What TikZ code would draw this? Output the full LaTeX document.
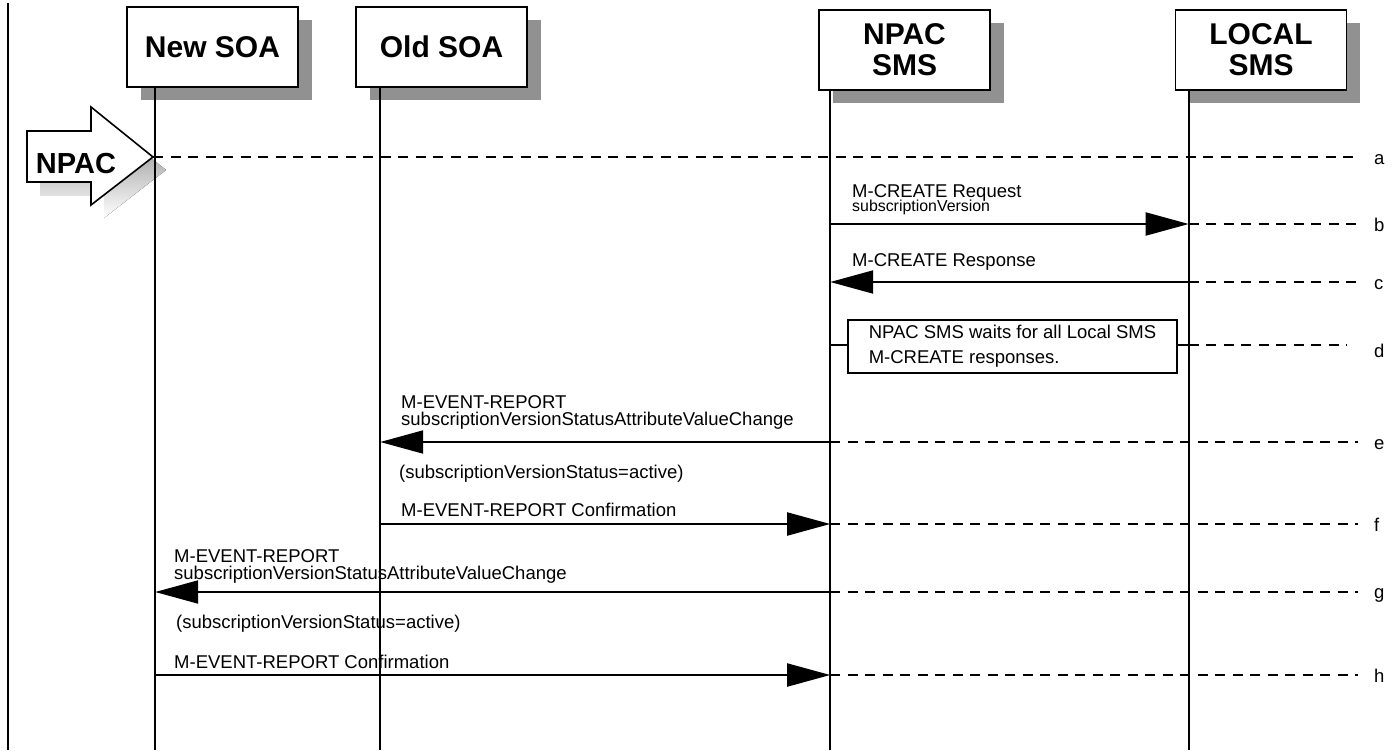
\documentclass[tikz,border=0pt]{standalone}
\usepackage{fontspec}
\setmainfont{Liberation Sans}
\usetikzlibrary{arrows.meta,shadows}
\definecolor{shade}{RGB}{145,145,145}
\tikzset{
  actor/.style={draw, line width=1.6pt, fill=white, minimum width=171pt,
    minimum height=80pt, inner sep=0pt, align=center,
    font=\fontsize{30}{31}\bfseries\selectfont,
    general shadow={fill=shade, shadow xshift=13.5pt, shadow yshift=-13pt}},
  lifeline/.style={line width=1.8pt},
  msg/.style={line width=2pt, -{Triangle[length=43pt,width=23pt]}},
  guide/.style={line width=2pt, dash pattern=on 10pt off 7.5pt},
  joint/.style={line width=2pt},
  lbl/.style={anchor=base west, inner sep=0pt, font=\fontsize{18.5}{22}\selectfont},
  smalllbl/.style={anchor=base west, inner sep=0pt, font=\fontsize{15.9}{18}\selectfont},
  rowtag/.style={anchor=base west, inner sep=0pt, font=\fontsize{18.5}{22}\selectfont},
  notebox/.style={draw, line width=1.6pt, fill=white, minimum width=329pt,
    minimum height=53pt, inner sep=0pt, align=left,
    font=\fontsize{18.5}{25}\selectfont},
}
\begin{document}
\begin{tikzpicture}[x=1pt, y=-1pt]
\useasboundingbox (0,0) rectangle (1397,750);

% page edge rule
\coordinate (edgetop) at (8,3);
\coordinate (edgebot) at (8,750);
\draw[line width=1.5pt] (edgetop) -- (edgebot);

% participants
\node[actor] (newsoa) at (212.5,47) {New SOA};
\node[actor] (oldsoa) at (441.5,47) {Old SOA};
\node[actor] (npacsms) at (904.5,50) {NPAC\\SMS};
\node[actor] (localsms) at (1261,50) {LOCAL\\SMS};

% lifeline anchors
\path (newsoa.south west) ++(29,0) coordinate (ns0);
\path (oldsoa.south west) ++(25,0) coordinate (ol0);
\path (npacsms.south west) ++(12,0) coordinate (np0);
\path (localsms.south west) ++(14,0) coordinate (lo0);
\coordinate (bottom) at (0,750);

% NPAC trigger arrow
\fill[shade, shift={(13,13)}] (27,131) -- (91,131) -- (91,107) -- (153,157)
  -- (91,205) -- (91,182) -- (27,182) -- cycle;
\draw[line width=1.6pt, fill=white] (27,131) -- (91,131) -- (91,107) -- (153,157)
  -- (91,205) -- (91,182) -- (27,182) -- cycle;
\node[inner sep=0pt, font=\fontsize{29}{30}\bfseries\selectfont] (npac) at (76,164) {NPAC};
\coordinate (npactip) at (153,157);

% lifelines
\draw[lifeline] (ns0) -- (ns0 |- bottom);
\draw[lifeline] (ol0) -- (ol0 |- bottom);
\draw[lifeline] (np0) -- (np0 |- bottom);
\draw[lifeline] (lo0) -- (lo0 |- bottom);

% rows
\coordinate (ra) at (0,157);
\coordinate (rb) at (0,224);
\coordinate (rc) at (0,282);
\coordinate (rd) at (0,345);
\coordinate (re) at (0,442);
\coordinate (rf) at (0,524);
\coordinate (rg) at (0,592);
\coordinate (rh) at (0,675);
\coordinate (rend) at (1358,0);
\coordinate (renddd) at (1347,0);

% a
\draw[guide] (npactip) -- (rend |- ra);
\node[rowtag] (ta) at (1374,164) {a};

% b
\node[lbl] (mcreq) at (852,197) {M-CREATE Request};
\node[smalllbl] (mcreqarg) at (852,211) {subscriptionVersion};
\draw[msg] (np0 |- rb) -- (lo0 |- rb);
\draw[guide] (lo0 |- rb) -- (rend |- rb);
\node[rowtag] (tb) at (1374,231) {b};

% c
\node[lbl] (mcresp) at (852,266) {M-CREATE Response};
\draw[msg] (lo0 |- rc) -- (np0 |- rc);
\draw[guide] (lo0 |- rc) -- (rend |- rc);
\node[rowtag] (tc) at (1374,289) {c};

% d
\node[notebox] (wait) at (1012.5,346.5) {NPAC SMS waits for all Local SMS\\M-CREATE responses.};
\draw[joint] (np0 |- rd) -- (wait.west |- rd);
\draw[joint] (wait.east |- rd) -- (lo0 |- rd);
\draw[guide] (lo0 |- rd) -- (renddd |- rd);
\node[rowtag] (td) at (1374,357) {d};

% e
\node[lbl] (evt1) at (401,408) {M-EVENT-REPORT};
\node[lbl] (evt1b) at (401,425) {subscriptionVersionStatusAttributeValueChange};
\draw[msg] (np0 |- re) -- (ol0 |- re);
\draw[guide] (np0 |- re) -- (rend |- re);
\node[lbl] (evt1c) at (399,478) {(subscriptionVersionStatus=active)};
\node[rowtag] (te) at (1374,449) {e};

% f
\node[lbl] (conf1) at (401,516) {M-EVENT-REPORT Confirmation};
\draw[msg] (ol0 |- rf) -- (np0 |- rf);
\draw[guide] (np0 |- rf) -- (rend |- rf);
\node[rowtag] (tf) at (1374,531) {f};

% g
\node[lbl] (evt2) at (174,562) {M-EVENT-REPORT};
\node[lbl] (evt2b) at (174,579) {subscriptionVersionStatusAttributeValueChange};
\draw[msg] (np0 |- rg) -- (ns0 |- rg);
\draw[guide] (np0 |- rg) -- (rend |- rg);
\node[lbl] (evt2c) at (176,628) {(subscriptionVersionStatus=active)};
\node[rowtag] (tg) at (1374,598) {g};

% h
\node[lbl] (conf2) at (174,668) {M-EVENT-REPORT Confirmation};
\draw[msg] (ns0 |- rh) -- (np0 |- rh);
\draw[guide] (np0 |- rh) -- (rend |- rh);
\node[rowtag] (th) at (1374,682) {h};
\end{tikzpicture}
\end{document}
